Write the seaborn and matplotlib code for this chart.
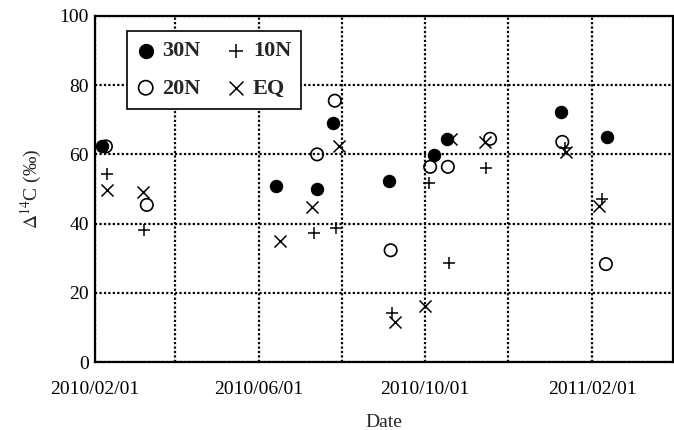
import pandas as pd
import matplotlib
matplotlib.use('Agg')
import matplotlib.pyplot as plt
import matplotlib.dates as mdates
import seaborn as sns

# Sampling dates and Delta-14C values (permil) per latitude band
dates_30n = ['2010-02-06', '2010-06-14', '2010-07-14', '2010-07-26', '2010-09-05',
             '2010-10-08', '2010-10-17', '2011-01-09', '2011-02-12']
vals_30n = [62.5, 51.0, 50.0, 69.0, 52.2, 59.8, 64.5, 72.3, 65.0]

dates_20n = ['2010-02-09', '2010-03-11', '2010-07-14', '2010-07-27', '2010-09-06',
             '2010-10-05', '2010-10-18', '2010-11-18', '2011-01-10', '2011-02-11']
vals_20n = [62.3, 45.4, 60.0, 75.5, 32.3, 56.4, 56.4, 64.5, 63.6, 28.3]

dates_10n = ['2010-02-10', '2010-03-09', '2010-07-12', '2010-07-28', '2010-09-07',
             '2010-10-04', '2010-10-19', '2010-11-15', '2011-01-12', '2011-02-08']
vals_10n = [54.3, 38.2, 37.2, 38.7, 14.1, 51.7, 28.6, 56.1, 61.9, 47.1]

dates_eq = ['2010-02-10', '2010-03-08', '2010-06-17', '2010-07-10', '2010-07-30',
            '2010-09-09', '2010-10-01', '2010-10-20', '2010-11-14', '2011-01-13', '2011-02-06']
vals_eq = [49.7, 49.1, 34.9, 44.8, 62.5, 11.7, 16.1, 64.5, 63.6, 60.7, 45.0]

major_ticks = ['2010-02-01', '2010-06-01', '2010-10-01', '2011-02-01']
minor_ticks = ['2010-04-01', '2010-08-01', '2010-12-01']

sns.set_theme(style='white')
plt.rcParams['font.family'] = ['Liberation Serif', 'DejaVu Serif']
plt.rcParams['mathtext.fontset'] = 'stix'

fig = plt.figure(figsize=(6.74, 4.30), dpi=100)
ax = fig.add_axes([0.141, 0.158, 0.857, 0.805])

series = [
    ('30N', dates_30n, vals_30n, dict(marker='o', facecolor='black', edgecolor='black', s=80)),
    ('20N', dates_20n, vals_20n, dict(marker='o', facecolor='none', edgecolor='black', s=80, linewidth=1.2)),
    ('10N', dates_10n, vals_10n, dict(marker='+', color='black', s=85, linewidth=1.1)),
    ('EQ', dates_eq, vals_eq, dict(marker='x', color='black', s=75, linewidth=1.1)),
]

for name, d, v, kw in series:
    df = pd.DataFrame({'date': pd.to_datetime(d), 'val': v})
    sns.scatterplot(data=df, x='date', y='val', ax=ax, label=name, zorder=3, **kw)

ax.set_xlim(pd.Timestamp('2010-02-01'), pd.Timestamp('2011-04-01'))
ax.set_ylim(0, 100)
ax.set_yticks([0, 20, 40, 60, 80, 100])
ax.set_xticks(pd.to_datetime(major_ticks))
ax.set_xticks(pd.to_datetime(minor_ticks), minor=True)
ax.xaxis.set_major_formatter(mdates.DateFormatter('%Y/%m/%d'))

ax.grid(True, which='both', axis='x', color='black', linestyle=(0, (1, 1)), linewidth=1.6)
ax.grid(True, which='major', axis='y', color='black', linestyle=(0, (1, 1)), linewidth=1.6)

for side in ['left', 'bottom']:
    ax.spines[side].set_color('black')
    ax.spines[side].set_linewidth(1.6)
for side in ['top', 'right']:
    ax.spines[side].set_color('black')
    ax.spines[side].set_linewidth(1.6)
    ax.spines[side].set_linestyle((0, (1, 1)))

ax.tick_params(axis='both', which='both', direction='inout', length=5, width=1.2,
               colors='black', labelsize=14)
ax.tick_params(axis='x', which='both', pad=11)
ax.tick_params(axis='y', which='both', pad=2)
ax.set_xlabel('Date', fontsize=14, labelpad=12)
ax.set_ylabel(r'$\Delta^{14}$C (‰)', fontsize=14, labelpad=11)

# legend: 30N / 20N in first column, 10N / EQ in second
h, l = ax.get_legend_handles_labels()
leg = ax.legend(h, l, ncol=2, loc='upper left', bbox_to_anchor=(0.055, 0.957),
                borderaxespad=0, frameon=True, fancybox=False, edgecolor='black',
                framealpha=1, markerscale=1.15,
                prop={'family': 'Liberation Serif', 'weight': 'bold', 'size': 16},
                handletextpad=0.35, columnspacing=1.2, borderpad=0.45, labelspacing=0.75,
                handlelength=0.8)
leg.get_frame().set_linewidth(1.2)

fig.savefig('out.png', dpi=100)
